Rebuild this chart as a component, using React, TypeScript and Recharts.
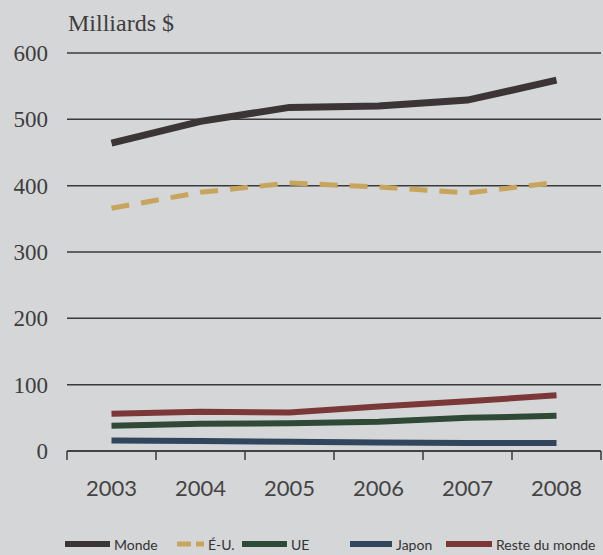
import { LineChart, Line, XAxis, YAxis, CartesianGrid, Legend } from 'recharts';

const YEARS = ['2003', '2004', '2005', '2006', '2007', '2008'];
const MONDE = [464, 497, 518, 520, 529, 559];
const EU_US = [366, 390, 404, 398, 389, 405];
const UE = [38, 41, 42, 44, 50, 53];
const JAPON = [16, 15, 14, 13, 12, 12];
const RESTE = [56, 59, 58, 67, 75, 84];
const Y_TICKS = [0, 100, 200, 300, 400, 500, 600];

const data = YEARS.map((year, i) => ({
  year,
  monde: MONDE[i],
  eu: EU_US[i],
  ue: UE[i],
  japon: JAPON[i],
  reste: RESTE[i],
}));

const SERIES = [
  { key: 'monde', name: 'Monde', color: '#3b3536', width: 7, dash: undefined, left: 65, swatch: 45 },
  { key: 'eu', name: 'É-U.', color: '#c8a55c', width: 5, dash: '18 12', left: 177, swatch: 27 },
  { key: 'ue', name: 'UE', color: '#2f4936', width: 6, dash: undefined, left: 242, swatch: 45 },
  { key: 'japon', name: 'Japon', color: '#31455d', width: 6, dash: undefined, left: 350, swatch: 42 },
  { key: 'reste', name: 'Reste du monde', color: '#7a3839', width: 6, dash: undefined, left: 446, swatch: 46 },
];

const BG = '#d5d6d8';
const INK = '#3a3a3a';

function YearTick(props: any) {
  const { x, y, payload, index, visibleTicksCount } = props;
  const half = payload.offset ?? 0;
  return (
    <g>
      <line x1={x - half} x2={x - half} y1={y} y2={y + 9} stroke={INK} strokeWidth={1.5} />
      {index === visibleTicksCount - 1 && (
        <line x1={x + half} x2={x + half} y1={y} y2={y + 9} stroke={INK} strokeWidth={1.5} />
      )}
      <text x={x} y={y + 45} textAnchor="middle" fill="#444" fontFamily="Lato, sans-serif" fontSize={22}>
        {payload.value}
      </text>
    </g>
  );
}

function LegendContent() {
  return (
    <div style={{ position: 'relative', height: 44, width: 603 }}>
      {SERIES.map((s) => (
        <div
          key={s.key}
          style={{
            position: 'absolute',
            left: s.left,
            top: 24,
            display: 'flex',
            alignItems: 'center',
            height: 18,
            whiteSpace: 'nowrap',
          }}
        >
          <svg width={s.swatch} height={8}>
            <line
              x1={0}
              x2={s.swatch}
              y1={4}
              y2={4}
              stroke={s.color}
              strokeWidth={s.key === 'eu' ? 5 : 6}
              strokeDasharray={s.key === 'eu' ? '14 5' : undefined}
            />
          </svg>
          <span style={{ marginLeft: 4, fontFamily: 'Lato, sans-serif', fontSize: 14, color: '#333' }}>{s.name}</span>
        </div>
      ))}
    </div>
  );
}

export default function App() {
  return (
    <div style={{ position: 'absolute', left: 0, top: 0, width: 603, height: 555, background: BG, overflow: 'hidden' }}>
      <div
        style={{
          position: 'absolute',
          left: 68,
          top: 9,
          fontFamily: '"Liberation Serif", serif',
          fontSize: 24,
          color: '#3d3d3d',
          lineHeight: '28px',
        }}
      >
        Milliards $
      </div>
      <LineChart width={603} height={555} data={data} margin={{ top: 53, right: 2, bottom: 0, left: 0 }}>
        <CartesianGrid horizontal vertical={false} stroke={INK} strokeWidth={1.5} />
        <XAxis
          dataKey="year"
          scale="band"
          axisLine={{ stroke: INK, strokeWidth: 1.5 }}
          tickLine={false}
          tickSize={0}
          tickMargin={0}
          height={60}
          tick={<YearTick />}
          interval={0}
        />
        <YAxis
          domain={[0, 600]}
          ticks={Y_TICKS}
          width={67}
          axisLine={false}
          tickLine={false}
          tickSize={0}
          tickMargin={19}
          tick={{ fill: '#3d3d3d', fontFamily: '"Liberation Serif", serif', fontSize: 23 }}
        />
        <Legend verticalAlign="bottom" content={<LegendContent />} />
        {SERIES.map((s) => (
          <Line
            key={s.key}
            dataKey={s.key}
            name={s.name}
            stroke={s.color}
            strokeWidth={s.width}
            strokeDasharray={s.dash}
            dot={false}
            activeDot={false}
            type="linear"
            isAnimationActive={false}
          />
        ))}
      </LineChart>
    </div>
  );
}
